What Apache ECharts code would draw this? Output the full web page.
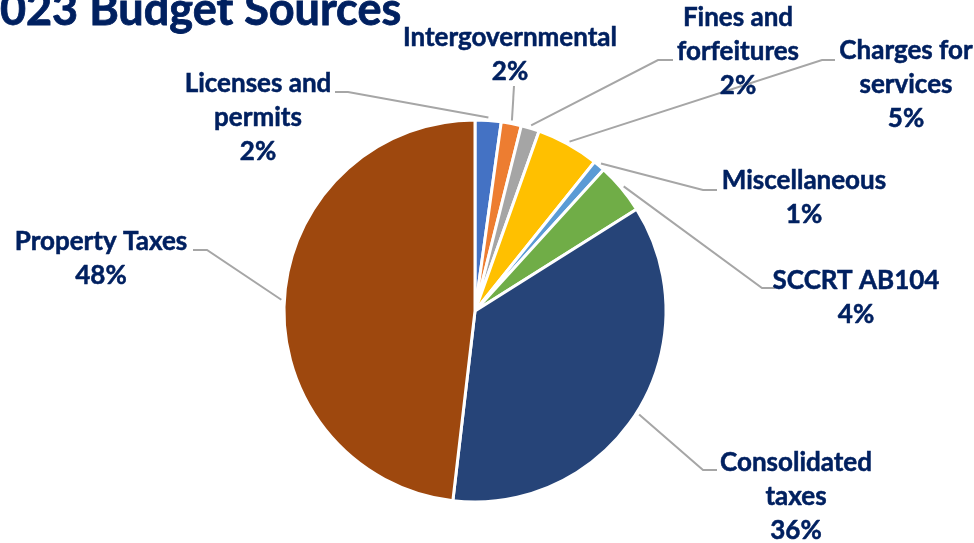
<!DOCTYPE html>
<html>
<head>
<meta charset="utf-8">
<script src="https://cdn.jsdelivr.net/npm/echarts@6/dist/echarts.min.js"></script>
<style>
  html, body { margin: 0; padding: 0; background: #ffffff; }
  #chart { width: 974px; height: 543px; }
</style>
</head>
<body>
<div id="chart"></div>
<script>
// Budget sources, share of the total (%)
const categories = [
  'Licenses and\npermits',
  'Intergovernmental',
  'Fines and\nforfeitures',
  'Charges for\nservices',
  'Miscellaneous',
  'SCCRT AB104',
  'Consolidated\ntaxes',
  'Property Taxes'
];
const shares = [2.2, 1.7, 1.55, 5.3, 1.0, 4.3, 35.8, 48.15];
const sliceColors = ['#4472C4', '#ED7D31', '#A5A5A5', '#FFC000', '#5B9BD5', '#70AD47', '#264478', '#9E480E'];

// Pie geometry
const CX = 475, CY = 311, R = 191;

// Where each label block sits, and the bend / end of its leader line
const labelSpots = [
  { at: [258, 118], elbow: [348, 92],  end: [335, 92] },
  { at: [510, 55],  elbow: [514, 86],  end: [514, 86] },
  { at: [738, 52],  elbow: [658, 60],  end: [673, 60] },
  { at: [906, 85],  elbow: [822, 60],  end: [835, 60] },
  { at: [804, 198], elbow: [703, 190], end: [717, 190] },
  { at: [856, 298], elbow: [762, 288], end: [775, 288] },
  { at: [796, 497], elbow: [703, 470], end: [717, 470] },
  { at: [101, 259], elbow: [207, 250], end: [193, 250] }
];

const TEXT = '#002060';
const FONT = 'Lato';

const chart = echarts.init(document.getElementById('chart'), null, { renderer: 'canvas' });

chart.setOption({
  animation: false,
  backgroundColor: '#ffffff',
  title: {
    text: '2023 Budget Sources',
    right: 572,
    top: -12,
    padding: 0,
    textStyle: {
      fontFamily: FONT, fontWeight: 'bold', fontSize: 45, color: TEXT,
      textBorderColor: TEXT, textBorderWidth: 0.8
    }
  },
  series: [{
    type: 'pie',
    center: [CX, CY],
    radius: R,
    startAngle: 90,
    clockwise: true,
    avoidLabelOverlap: false,
    itemStyle: { borderColor: '#ffffff', borderWidth: 3 },
    label: {
      show: true,
      position: 'outside',
      alignTo: 'none',
      formatter: p => p.name + '\n' + Math.round(p.percent) + '%',
      fontFamily: FONT,
      fontWeight: 'bold',
      fontSize: 26,
      lineHeight: 34,
      color: TEXT,
      textBorderColor: TEXT,
      textBorderWidth: 0.5,
      align: 'center'
    },
    labelLine: {
      show: true,
      smooth: false,
      lineStyle: { color: '#A6A6A6', width: 2 }
    },
    labelLayout: function (p) {
      const s = labelSpots[p.dataIndex];
      const out = { x: s.at[0], y: s.at[1], align: 'center', verticalAlign: 'middle' };
      if (p.labelLinePoints && p.labelLinePoints.length) {
        const a = p.labelLinePoints[0];
        const dx = a[0] - CX, dy = a[1] - CY;
        const len = Math.hypot(dx, dy) || 1;
        const k = (len + 3) / len;
        out.labelLinePoints = [[CX + dx * k, CY + dy * k], s.elbow, s.end];
      }
      return out;
    },
    emphasis: { disabled: true },
    data: categories.map((name, i) => ({
      name: name,
      value: shares[i],
      itemStyle: { color: sliceColors[i] }
    }))
  }]
});
</script>
</body>
</html>
